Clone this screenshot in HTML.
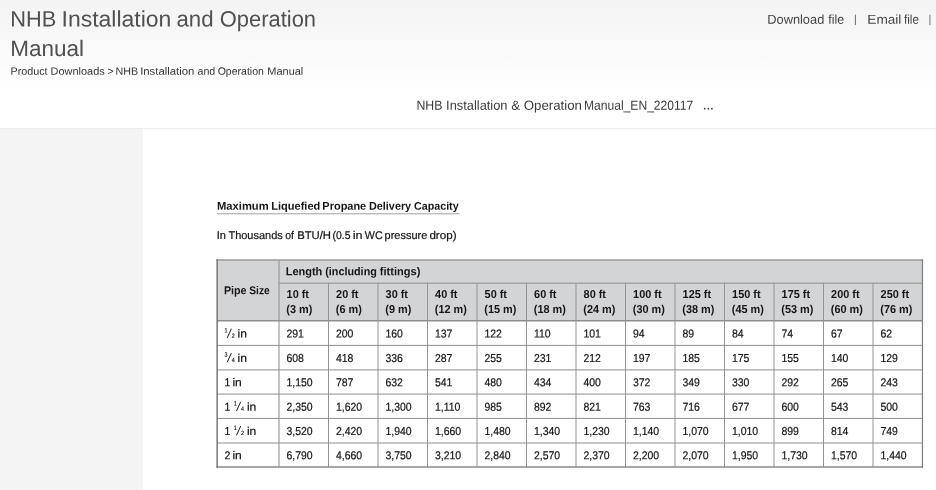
<!DOCTYPE html>
<html><head><meta charset="utf-8"><title>NHB Installation and Operation Manual</title>
<style>
html,body{margin:0;padding:0;}
body{width:936px;height:490px;overflow:hidden;position:relative;background:#fff;font-family:"Liberation Sans",sans-serif;color:#333;}
.top{position:absolute;left:0;top:0;width:936px;height:128px;background:linear-gradient(to bottom,#f3f3f3 0px,#ffffff 88px);}
.rule{position:absolute;left:0;top:128px;width:936px;height:1px;background:#ededed;}
.side{position:absolute;left:0;top:129px;width:143px;height:361px;background:#f4f4f4;}
.doc{position:absolute;left:0;top:0;will-change:transform;}
</style></head>
<body>
<div class="top"></div>
<div class="rule"></div>
<div class="side"></div>
<svg class="doc" width="936" height="490" viewBox="0 0 936 490" font-family="Liberation Sans, sans-serif" fill="#151314">
<rect x="217.15" y="260.0" width="705.30" height="60.70" fill="#d3d4d6"/>
<line x1="279.00" y1="283.15" x2="922.45" y2="283.15" stroke="#8e8e8e" stroke-width="1.0"/>
<line x1="217.15" y1="345.40" x2="922.45" y2="345.40" stroke="#8e8e8e" stroke-width="1.0"/>
<line x1="217.15" y1="369.90" x2="922.45" y2="369.90" stroke="#8e8e8e" stroke-width="1.0"/>
<line x1="217.15" y1="394.10" x2="922.45" y2="394.10" stroke="#8e8e8e" stroke-width="1.0"/>
<line x1="217.15" y1="418.40" x2="922.45" y2="418.40" stroke="#8e8e8e" stroke-width="1.0"/>
<line x1="217.15" y1="443.00" x2="922.45" y2="443.00" stroke="#8e8e8e" stroke-width="1.0"/>
<line x1="217.15" y1="320.70" x2="922.45" y2="320.70" stroke="#8e8e8e" stroke-width="1.4"/>
<line x1="279.00" y1="260.00" x2="279.00" y2="467.00" stroke="#939393" stroke-width="1.1"/>
<line x1="328.50" y1="283.15" x2="328.50" y2="467.00" stroke="#939393" stroke-width="1.0"/>
<line x1="378.00" y1="283.15" x2="378.00" y2="467.00" stroke="#939393" stroke-width="1.0"/>
<line x1="427.50" y1="283.15" x2="427.50" y2="467.00" stroke="#939393" stroke-width="1.0"/>
<line x1="477.00" y1="283.15" x2="477.00" y2="467.00" stroke="#939393" stroke-width="1.0"/>
<line x1="526.50" y1="283.15" x2="526.50" y2="467.00" stroke="#939393" stroke-width="1.0"/>
<line x1="576.00" y1="283.15" x2="576.00" y2="467.00" stroke="#939393" stroke-width="1.0"/>
<line x1="625.50" y1="283.15" x2="625.50" y2="467.00" stroke="#939393" stroke-width="1.0"/>
<line x1="675.00" y1="283.15" x2="675.00" y2="467.00" stroke="#939393" stroke-width="1.0"/>
<line x1="724.50" y1="283.15" x2="724.50" y2="467.00" stroke="#939393" stroke-width="1.0"/>
<line x1="774.00" y1="283.15" x2="774.00" y2="467.00" stroke="#939393" stroke-width="1.0"/>
<line x1="823.50" y1="283.15" x2="823.50" y2="467.00" stroke="#939393" stroke-width="1.0"/>
<line x1="873.00" y1="283.15" x2="873.00" y2="467.00" stroke="#939393" stroke-width="1.0"/>
<line x1="216.45" y1="260.00" x2="923.15" y2="260.00" stroke="#9a9a9a" stroke-width="1.4"/>
<line x1="216.45" y1="467.00" x2="923.15" y2="467.00" stroke="#8a8a8a" stroke-width="1.5"/>
<line x1="217.15" y1="259.30" x2="217.15" y2="467.70" stroke="#777777" stroke-width="1.5"/>
<line x1="922.45" y1="259.30" x2="922.45" y2="467.70" stroke="#808080" stroke-width="1.25"/>
<text transform="translate(10.21 26.50) rotate(0.04) scale(0.9768 1)" font-size="22.3" fill="#505050">NHB</text>
<text transform="translate(61.58 26.50) rotate(0.04) scale(1.031 1)" font-size="22.3" fill="#505050">Installation</text>
<text transform="translate(176.46 26.50) rotate(0.04) scale(0.9966 1)" font-size="22.3" fill="#505050">and</text>
<text transform="translate(219.76 26.50) rotate(0.04) scale(0.983 1)" font-size="22.3" fill="#505050">Operation</text>
<text transform="translate(10.15 56.00) rotate(0.04) scale(1.0097 1)" font-size="22.3" fill="#505050">Manual</text>
<text transform="translate(10.57 74.70) rotate(0.04) scale(1.0135 1)" font-size="10.6" fill="#333333">Product</text>
<text transform="translate(50.60 74.70) rotate(0.04) scale(1.0319 1)" font-size="10.6" fill="#333333">Downloads</text>
<text transform="translate(107.47 74.70) rotate(0.04) scale(1.0103 1)" font-size="10.6" fill="#333333">&gt;</text>
<text transform="translate(115.52 74.70) rotate(0.04) scale(1.0121 1)" font-size="10.6" fill="#333333">NHB</text>
<text transform="translate(140.15 74.70) rotate(0.04) scale(1.0696 1)" font-size="10.6" fill="#333333">Installation</text>
<text transform="translate(197.55 74.70) rotate(0.04) scale(1.0028 1)" font-size="10.6" fill="#333333">and</text>
<text transform="translate(217.70 74.70) rotate(0.04) scale(0.9925 1)" font-size="10.6" fill="#333333">Operation</text>
<text transform="translate(267.30 74.70) rotate(0.04) scale(1.037 1)" font-size="10.6" fill="#333333">Manual</text>
<text transform="translate(767.25 23.70) rotate(0.04) scale(0.9939 1)" font-size="12.9" fill="#444444">Download</text>
<text transform="translate(828.22 23.70) rotate(0.04) scale(0.9728 1)" font-size="12.9" fill="#444444">file</text>
<text transform="translate(867.28 23.70) rotate(0.04) scale(1.0589 1)" font-size="12.9" fill="#444444">Email</text>
<text transform="translate(903.93 23.70) rotate(0.04) scale(0.9092 1)" font-size="12.9" fill="#444444">file</text>
<text transform="translate(416.49 109.80) rotate(0.04) scale(0.9323 1)" font-size="13.2" fill="#3a3a3a">NHB</text>
<text transform="translate(446.12 109.80) rotate(0.04) scale(0.9726 1)" font-size="13.2" fill="#3a3a3a">Installation</text>
<text transform="translate(511.13 109.80) rotate(0.04) scale(1.009 1)" font-size="13.2" fill="#3a3a3a">&amp;</text>
<text transform="translate(523.77 109.80) rotate(0.04) scale(1.0046 1)" font-size="13.2" fill="#3a3a3a">Operation</text>
<text transform="translate(583.91 109.80) rotate(0.04) scale(0.9172 1)" font-size="13.2" fill="#3a3a3a">Manual_EN_220117</text>
<circle cx="704.7" cy="108.7" r="0.85" fill="#3a3a3a"/><circle cx="708.3" cy="108.7" r="0.85" fill="#3a3a3a"/><circle cx="711.9" cy="108.7" r="0.85" fill="#3a3a3a"/>
<line x1="855.4" y1="14.7" x2="855.4" y2="25" stroke="#6a6a6a" stroke-width="1"/>
<line x1="929.9" y1="14.7" x2="929.9" y2="25" stroke="#8a8a8a" stroke-width="1.2"/>
<text transform="translate(216.95 209.80) rotate(0.04) scale(1.0027 1)" font-size="11.2" font-weight="bold" fill="#171516">Maximum</text>
<text transform="translate(271.26 209.80) rotate(0.04) scale(0.9866 1)" font-size="11.2" font-weight="bold" fill="#171516">Liquefied</text>
<text transform="translate(322.37 209.80) rotate(0.04) scale(0.9786 1)" font-size="11.2" font-weight="bold" fill="#171516">Propane</text>
<text transform="translate(368.97 209.80) rotate(0.04) scale(0.9687 1)" font-size="11.2" font-weight="bold" fill="#171516">Delivery</text>
<text transform="translate(413.96 209.80) rotate(0.04) scale(0.9583 1)" font-size="11.2" font-weight="bold" fill="#171516">Capacity</text>
<line x1="216.8" y1="213.8" x2="459.4" y2="213.8" stroke="#a0a0a0" stroke-width="1"/>
<text transform="translate(216.68 238.95) rotate(0.04) scale(0.9891 1)" font-size="11.2" stroke="#151314" stroke-width="0.2">In</text>
<text transform="translate(228.45 238.95) rotate(0.04) scale(0.9817 1)" font-size="11.2" stroke="#151314" stroke-width="0.2">Thousands</text>
<text transform="translate(285.16 238.95) rotate(0.04) scale(0.9336 1)" font-size="11.2" stroke="#151314" stroke-width="0.2">of</text>
<text transform="translate(297.17 238.95) rotate(0.04) scale(1.0085 1)" font-size="11.2" stroke="#151314" stroke-width="0.2">BTU/H</text>
<text transform="translate(332.45 238.95) rotate(0.04) scale(0.9329 1)" font-size="11.2" stroke="#151314" stroke-width="0.2">(0.5</text>
<text transform="translate(352.65 238.95) rotate(0.04) scale(1.1323 1)" font-size="11.2" stroke="#151314" stroke-width="0.2">in</text>
<text transform="translate(364.85 238.95) rotate(0.04) scale(0.9524 1)" font-size="11.2" stroke="#151314" stroke-width="0.2">WC</text>
<text transform="translate(384.59 238.95) rotate(0.04) scale(0.9785 1)" font-size="11.2" stroke="#151314" stroke-width="0.2">pressure</text>
<text transform="translate(429.41 238.95) rotate(0.04) scale(1.0377 1)" font-size="11.2" stroke="#151314" stroke-width="0.2">drop)</text>
<text transform="translate(223.88 294.15) rotate(0.04) scale(0.9337 1)" font-size="11.5" font-weight="bold" fill="#171516">Pipe</text>
<text transform="translate(249.31 294.15) rotate(0.04) scale(0.8882 1)" font-size="11.5" font-weight="bold" fill="#171516">Size</text>
<text transform="translate(285.66 275.25) rotate(0.04) scale(0.958 1)" font-size="11.5" font-weight="bold" fill="#171516">Length</text>
<text transform="translate(325.16 275.25) rotate(0.04) scale(0.9422 1)" font-size="11.5" font-weight="bold" fill="#171516">(including</text>
<text transform="translate(379.81 275.25) rotate(0.04) scale(0.9641 1)" font-size="11.5" font-weight="bold" fill="#171516">fittings)</text>
<text transform="translate(286.60 297.90) rotate(0.04) scale(0.9485 1)" font-size="11.5" font-weight="bold" fill="#171516">10 ft</text>
<text transform="translate(286.30 313.00) rotate(0.04) scale(0.9485 1)" font-size="11.5" font-weight="bold" fill="#171516">(3 m)</text>
<text transform="translate(336.10 297.90) rotate(0.04) scale(0.9485 1)" font-size="11.5" font-weight="bold" fill="#171516">20 ft</text>
<text transform="translate(335.80 313.00) rotate(0.04) scale(0.9485 1)" font-size="11.5" font-weight="bold" fill="#171516">(6 m)</text>
<text transform="translate(385.60 297.90) rotate(0.04) scale(0.9485 1)" font-size="11.5" font-weight="bold" fill="#171516">30 ft</text>
<text transform="translate(385.30 313.00) rotate(0.04) scale(0.9485 1)" font-size="11.5" font-weight="bold" fill="#171516">(9 m)</text>
<text transform="translate(435.10 297.90) rotate(0.04) scale(0.9485 1)" font-size="11.5" font-weight="bold" fill="#171516">40 ft</text>
<text transform="translate(434.80 313.00) rotate(0.04) scale(0.9485 1)" font-size="11.5" font-weight="bold" fill="#171516">(12 m)</text>
<text transform="translate(484.60 297.90) rotate(0.04) scale(0.9485 1)" font-size="11.5" font-weight="bold" fill="#171516">50 ft</text>
<text transform="translate(484.30 313.00) rotate(0.04) scale(0.9485 1)" font-size="11.5" font-weight="bold" fill="#171516">(15 m)</text>
<text transform="translate(534.10 297.90) rotate(0.04) scale(0.9485 1)" font-size="11.5" font-weight="bold" fill="#171516">60 ft</text>
<text transform="translate(533.80 313.00) rotate(0.04) scale(0.9485 1)" font-size="11.5" font-weight="bold" fill="#171516">(18 m)</text>
<text transform="translate(583.60 297.90) rotate(0.04) scale(0.9485 1)" font-size="11.5" font-weight="bold" fill="#171516">80 ft</text>
<text transform="translate(583.30 313.00) rotate(0.04) scale(0.9485 1)" font-size="11.5" font-weight="bold" fill="#171516">(24 m)</text>
<text transform="translate(633.10 297.90) rotate(0.04) scale(0.9485 1)" font-size="11.5" font-weight="bold" fill="#171516">100 ft</text>
<text transform="translate(632.80 313.00) rotate(0.04) scale(0.9485 1)" font-size="11.5" font-weight="bold" fill="#171516">(30 m)</text>
<text transform="translate(682.60 297.90) rotate(0.04) scale(0.9485 1)" font-size="11.5" font-weight="bold" fill="#171516">125 ft</text>
<text transform="translate(682.30 313.00) rotate(0.04) scale(0.9485 1)" font-size="11.5" font-weight="bold" fill="#171516">(38 m)</text>
<text transform="translate(732.10 297.90) rotate(0.04) scale(0.9485 1)" font-size="11.5" font-weight="bold" fill="#171516">150 ft</text>
<text transform="translate(731.80 313.00) rotate(0.04) scale(0.9485 1)" font-size="11.5" font-weight="bold" fill="#171516">(45 m)</text>
<text transform="translate(781.60 297.90) rotate(0.04) scale(0.9485 1)" font-size="11.5" font-weight="bold" fill="#171516">175 ft</text>
<text transform="translate(781.30 313.00) rotate(0.04) scale(0.9485 1)" font-size="11.5" font-weight="bold" fill="#171516">(53 m)</text>
<text transform="translate(831.10 297.90) rotate(0.04) scale(0.9485 1)" font-size="11.5" font-weight="bold" fill="#171516">200 ft</text>
<text transform="translate(830.80 313.00) rotate(0.04) scale(0.9485 1)" font-size="11.5" font-weight="bold" fill="#171516">(60 m)</text>
<text transform="translate(880.60 297.90) rotate(0.04) scale(0.9485 1)" font-size="11.5" font-weight="bold" fill="#171516">250 ft</text>
<text transform="translate(880.30 313.00) rotate(0.04) scale(0.9485 1)" font-size="11.5" font-weight="bold" fill="#171516">(76 m)</text>
<text transform="translate(286.40 337.60) rotate(0.04) scale(0.911 1)" font-size="11.5" stroke="#151314" stroke-width="0.2">291</text>
<text transform="translate(335.90 337.60) rotate(0.04) scale(0.911 1)" font-size="11.5" stroke="#151314" stroke-width="0.2">200</text>
<text transform="translate(385.40 337.60) rotate(0.04) scale(0.911 1)" font-size="11.5" stroke="#151314" stroke-width="0.2">160</text>
<text transform="translate(434.90 337.60) rotate(0.04) scale(0.911 1)" font-size="11.5" stroke="#151314" stroke-width="0.2">137</text>
<text transform="translate(484.40 337.60) rotate(0.04) scale(0.911 1)" font-size="11.5" stroke="#151314" stroke-width="0.2">122</text>
<text transform="translate(533.90 337.60) rotate(0.04) scale(0.911 1)" font-size="11.5" stroke="#151314" stroke-width="0.2">110</text>
<text transform="translate(583.40 337.60) rotate(0.04) scale(0.911 1)" font-size="11.5" stroke="#151314" stroke-width="0.2">101</text>
<text transform="translate(632.90 337.60) rotate(0.04) scale(0.911 1)" font-size="11.5" stroke="#151314" stroke-width="0.2">94</text>
<text transform="translate(682.40 337.60) rotate(0.04) scale(0.911 1)" font-size="11.5" stroke="#151314" stroke-width="0.2">89</text>
<text transform="translate(731.90 337.60) rotate(0.04) scale(0.911 1)" font-size="11.5" stroke="#151314" stroke-width="0.2">84</text>
<text transform="translate(781.40 337.60) rotate(0.04) scale(0.911 1)" font-size="11.5" stroke="#151314" stroke-width="0.2">74</text>
<text transform="translate(830.90 337.60) rotate(0.04) scale(0.911 1)" font-size="11.5" stroke="#151314" stroke-width="0.2">67</text>
<text transform="translate(880.40 337.60) rotate(0.04) scale(0.911 1)" font-size="11.5" stroke="#151314" stroke-width="0.2">62</text>
<text transform="translate(224.50 332.50) rotate(0.04) scale(0.85 1)" font-size="6.3" stroke="#151314" stroke-width="0.15">1</text>
<line x1="227.20" y1="337.90" x2="231.40" y2="328.70" stroke="#151314" stroke-width="0.95"/>
<text transform="translate(231.70 337.70) rotate(0.04) scale(0.9 1)" font-size="6.0" stroke="#151314" stroke-width="0.15">2</text>
<text transform="translate(237.60 337.60) rotate(0.04) scale(1.05 1)" font-size="11.5" stroke="#151314" stroke-width="0.2">in</text>
<text transform="translate(286.40 361.95) rotate(0.04) scale(0.911 1)" font-size="11.5" stroke="#151314" stroke-width="0.2">608</text>
<text transform="translate(335.90 361.95) rotate(0.04) scale(0.911 1)" font-size="11.5" stroke="#151314" stroke-width="0.2">418</text>
<text transform="translate(385.40 361.95) rotate(0.04) scale(0.911 1)" font-size="11.5" stroke="#151314" stroke-width="0.2">336</text>
<text transform="translate(434.90 361.95) rotate(0.04) scale(0.911 1)" font-size="11.5" stroke="#151314" stroke-width="0.2">287</text>
<text transform="translate(484.40 361.95) rotate(0.04) scale(0.911 1)" font-size="11.5" stroke="#151314" stroke-width="0.2">255</text>
<text transform="translate(533.90 361.95) rotate(0.04) scale(0.911 1)" font-size="11.5" stroke="#151314" stroke-width="0.2">231</text>
<text transform="translate(583.40 361.95) rotate(0.04) scale(0.911 1)" font-size="11.5" stroke="#151314" stroke-width="0.2">212</text>
<text transform="translate(632.90 361.95) rotate(0.04) scale(0.911 1)" font-size="11.5" stroke="#151314" stroke-width="0.2">197</text>
<text transform="translate(682.40 361.95) rotate(0.04) scale(0.911 1)" font-size="11.5" stroke="#151314" stroke-width="0.2">185</text>
<text transform="translate(731.90 361.95) rotate(0.04) scale(0.911 1)" font-size="11.5" stroke="#151314" stroke-width="0.2">175</text>
<text transform="translate(781.40 361.95) rotate(0.04) scale(0.911 1)" font-size="11.5" stroke="#151314" stroke-width="0.2">155</text>
<text transform="translate(830.90 361.95) rotate(0.04) scale(0.911 1)" font-size="11.5" stroke="#151314" stroke-width="0.2">140</text>
<text transform="translate(880.40 361.95) rotate(0.04) scale(0.911 1)" font-size="11.5" stroke="#151314" stroke-width="0.2">129</text>
<text transform="translate(224.50 356.85) rotate(0.04) scale(0.85 1)" font-size="6.3" stroke="#151314" stroke-width="0.15">3</text>
<line x1="227.20" y1="362.25" x2="231.40" y2="353.05" stroke="#151314" stroke-width="0.95"/>
<text transform="translate(231.70 362.05) rotate(0.04) scale(0.9 1)" font-size="6.0" stroke="#151314" stroke-width="0.15">4</text>
<text transform="translate(237.60 361.95) rotate(0.04) scale(1.05 1)" font-size="11.5" stroke="#151314" stroke-width="0.2">in</text>
<text transform="translate(286.40 386.30) rotate(0.04) scale(0.911 1)" font-size="11.5" stroke="#151314" stroke-width="0.2">1,150</text>
<text transform="translate(335.90 386.30) rotate(0.04) scale(0.911 1)" font-size="11.5" stroke="#151314" stroke-width="0.2">787</text>
<text transform="translate(385.40 386.30) rotate(0.04) scale(0.911 1)" font-size="11.5" stroke="#151314" stroke-width="0.2">632</text>
<text transform="translate(434.90 386.30) rotate(0.04) scale(0.911 1)" font-size="11.5" stroke="#151314" stroke-width="0.2">541</text>
<text transform="translate(484.40 386.30) rotate(0.04) scale(0.911 1)" font-size="11.5" stroke="#151314" stroke-width="0.2">480</text>
<text transform="translate(533.90 386.30) rotate(0.04) scale(0.911 1)" font-size="11.5" stroke="#151314" stroke-width="0.2">434</text>
<text transform="translate(583.40 386.30) rotate(0.04) scale(0.911 1)" font-size="11.5" stroke="#151314" stroke-width="0.2">400</text>
<text transform="translate(632.90 386.30) rotate(0.04) scale(0.911 1)" font-size="11.5" stroke="#151314" stroke-width="0.2">372</text>
<text transform="translate(682.40 386.30) rotate(0.04) scale(0.911 1)" font-size="11.5" stroke="#151314" stroke-width="0.2">349</text>
<text transform="translate(731.90 386.30) rotate(0.04) scale(0.911 1)" font-size="11.5" stroke="#151314" stroke-width="0.2">330</text>
<text transform="translate(781.40 386.30) rotate(0.04) scale(0.911 1)" font-size="11.5" stroke="#151314" stroke-width="0.2">292</text>
<text transform="translate(830.90 386.30) rotate(0.04) scale(0.911 1)" font-size="11.5" stroke="#151314" stroke-width="0.2">265</text>
<text transform="translate(880.40 386.30) rotate(0.04) scale(0.911 1)" font-size="11.5" stroke="#151314" stroke-width="0.2">243</text>
<text transform="translate(224.40 386.30) rotate(0.04) scale(0.911 1)" font-size="11.5" stroke="#151314" stroke-width="0.2">1</text>
<text transform="translate(232.40 386.30) rotate(0.04) scale(1.05 1)" font-size="11.5" stroke="#151314" stroke-width="0.2">in</text>
<text transform="translate(286.40 410.65) rotate(0.04) scale(0.911 1)" font-size="11.5" stroke="#151314" stroke-width="0.2">2,350</text>
<text transform="translate(335.90 410.65) rotate(0.04) scale(0.911 1)" font-size="11.5" stroke="#151314" stroke-width="0.2">1,620</text>
<text transform="translate(385.40 410.65) rotate(0.04) scale(0.911 1)" font-size="11.5" stroke="#151314" stroke-width="0.2">1,300</text>
<text transform="translate(434.90 410.65) rotate(0.04) scale(0.911 1)" font-size="11.5" stroke="#151314" stroke-width="0.2">1,110</text>
<text transform="translate(484.40 410.65) rotate(0.04) scale(0.911 1)" font-size="11.5" stroke="#151314" stroke-width="0.2">985</text>
<text transform="translate(533.90 410.65) rotate(0.04) scale(0.911 1)" font-size="11.5" stroke="#151314" stroke-width="0.2">892</text>
<text transform="translate(583.40 410.65) rotate(0.04) scale(0.911 1)" font-size="11.5" stroke="#151314" stroke-width="0.2">821</text>
<text transform="translate(632.90 410.65) rotate(0.04) scale(0.911 1)" font-size="11.5" stroke="#151314" stroke-width="0.2">763</text>
<text transform="translate(682.40 410.65) rotate(0.04) scale(0.911 1)" font-size="11.5" stroke="#151314" stroke-width="0.2">716</text>
<text transform="translate(731.90 410.65) rotate(0.04) scale(0.911 1)" font-size="11.5" stroke="#151314" stroke-width="0.2">677</text>
<text transform="translate(781.40 410.65) rotate(0.04) scale(0.911 1)" font-size="11.5" stroke="#151314" stroke-width="0.2">600</text>
<text transform="translate(830.90 410.65) rotate(0.04) scale(0.911 1)" font-size="11.5" stroke="#151314" stroke-width="0.2">543</text>
<text transform="translate(880.40 410.65) rotate(0.04) scale(0.911 1)" font-size="11.5" stroke="#151314" stroke-width="0.2">500</text>
<text transform="translate(224.40 410.65) rotate(0.04) scale(0.911 1)" font-size="11.5" stroke="#151314" stroke-width="0.2">1</text>
<text transform="translate(233.80 405.55) rotate(0.04) scale(0.85 1)" font-size="6.3" stroke="#151314" stroke-width="0.15">1</text>
<line x1="236.50" y1="410.95" x2="240.70" y2="401.75" stroke="#151314" stroke-width="0.95"/>
<text transform="translate(241.00 410.75) rotate(0.04) scale(0.9 1)" font-size="6.0" stroke="#151314" stroke-width="0.15">4</text>
<text transform="translate(246.90 410.65) rotate(0.04) scale(1.05 1)" font-size="11.5" stroke="#151314" stroke-width="0.2">in</text>
<text transform="translate(286.40 435.00) rotate(0.04) scale(0.911 1)" font-size="11.5" stroke="#151314" stroke-width="0.2">3,520</text>
<text transform="translate(335.90 435.00) rotate(0.04) scale(0.911 1)" font-size="11.5" stroke="#151314" stroke-width="0.2">2,420</text>
<text transform="translate(385.40 435.00) rotate(0.04) scale(0.911 1)" font-size="11.5" stroke="#151314" stroke-width="0.2">1,940</text>
<text transform="translate(434.90 435.00) rotate(0.04) scale(0.911 1)" font-size="11.5" stroke="#151314" stroke-width="0.2">1,660</text>
<text transform="translate(484.40 435.00) rotate(0.04) scale(0.911 1)" font-size="11.5" stroke="#151314" stroke-width="0.2">1,480</text>
<text transform="translate(533.90 435.00) rotate(0.04) scale(0.911 1)" font-size="11.5" stroke="#151314" stroke-width="0.2">1,340</text>
<text transform="translate(583.40 435.00) rotate(0.04) scale(0.911 1)" font-size="11.5" stroke="#151314" stroke-width="0.2">1,230</text>
<text transform="translate(632.90 435.00) rotate(0.04) scale(0.911 1)" font-size="11.5" stroke="#151314" stroke-width="0.2">1,140</text>
<text transform="translate(682.40 435.00) rotate(0.04) scale(0.911 1)" font-size="11.5" stroke="#151314" stroke-width="0.2">1,070</text>
<text transform="translate(731.90 435.00) rotate(0.04) scale(0.911 1)" font-size="11.5" stroke="#151314" stroke-width="0.2">1,010</text>
<text transform="translate(781.40 435.00) rotate(0.04) scale(0.911 1)" font-size="11.5" stroke="#151314" stroke-width="0.2">899</text>
<text transform="translate(830.90 435.00) rotate(0.04) scale(0.911 1)" font-size="11.5" stroke="#151314" stroke-width="0.2">814</text>
<text transform="translate(880.40 435.00) rotate(0.04) scale(0.911 1)" font-size="11.5" stroke="#151314" stroke-width="0.2">749</text>
<text transform="translate(224.40 435.00) rotate(0.04) scale(0.911 1)" font-size="11.5" stroke="#151314" stroke-width="0.2">1</text>
<text transform="translate(233.80 429.90) rotate(0.04) scale(0.85 1)" font-size="6.3" stroke="#151314" stroke-width="0.15">1</text>
<line x1="236.50" y1="435.30" x2="240.70" y2="426.10" stroke="#151314" stroke-width="0.95"/>
<text transform="translate(241.00 435.10) rotate(0.04) scale(0.9 1)" font-size="6.0" stroke="#151314" stroke-width="0.15">2</text>
<text transform="translate(246.90 435.00) rotate(0.04) scale(1.05 1)" font-size="11.5" stroke="#151314" stroke-width="0.2">in</text>
<text transform="translate(286.40 459.35) rotate(0.04) scale(0.911 1)" font-size="11.5" stroke="#151314" stroke-width="0.2">6,790</text>
<text transform="translate(335.90 459.35) rotate(0.04) scale(0.911 1)" font-size="11.5" stroke="#151314" stroke-width="0.2">4,660</text>
<text transform="translate(385.40 459.35) rotate(0.04) scale(0.911 1)" font-size="11.5" stroke="#151314" stroke-width="0.2">3,750</text>
<text transform="translate(434.90 459.35) rotate(0.04) scale(0.911 1)" font-size="11.5" stroke="#151314" stroke-width="0.2">3,210</text>
<text transform="translate(484.40 459.35) rotate(0.04) scale(0.911 1)" font-size="11.5" stroke="#151314" stroke-width="0.2">2,840</text>
<text transform="translate(533.90 459.35) rotate(0.04) scale(0.911 1)" font-size="11.5" stroke="#151314" stroke-width="0.2">2,570</text>
<text transform="translate(583.40 459.35) rotate(0.04) scale(0.911 1)" font-size="11.5" stroke="#151314" stroke-width="0.2">2,370</text>
<text transform="translate(632.90 459.35) rotate(0.04) scale(0.911 1)" font-size="11.5" stroke="#151314" stroke-width="0.2">2,200</text>
<text transform="translate(682.40 459.35) rotate(0.04) scale(0.911 1)" font-size="11.5" stroke="#151314" stroke-width="0.2">2,070</text>
<text transform="translate(731.90 459.35) rotate(0.04) scale(0.911 1)" font-size="11.5" stroke="#151314" stroke-width="0.2">1,950</text>
<text transform="translate(781.40 459.35) rotate(0.04) scale(0.911 1)" font-size="11.5" stroke="#151314" stroke-width="0.2">1,730</text>
<text transform="translate(830.90 459.35) rotate(0.04) scale(0.911 1)" font-size="11.5" stroke="#151314" stroke-width="0.2">1,570</text>
<text transform="translate(880.40 459.35) rotate(0.04) scale(0.911 1)" font-size="11.5" stroke="#151314" stroke-width="0.2">1,440</text>
<text transform="translate(224.40 459.35) rotate(0.04) scale(0.911 1)" font-size="11.5" stroke="#151314" stroke-width="0.2">2</text>
<text transform="translate(232.40 459.35) rotate(0.04) scale(1.05 1)" font-size="11.5" stroke="#151314" stroke-width="0.2">in</text>
</svg>
</body></html>
